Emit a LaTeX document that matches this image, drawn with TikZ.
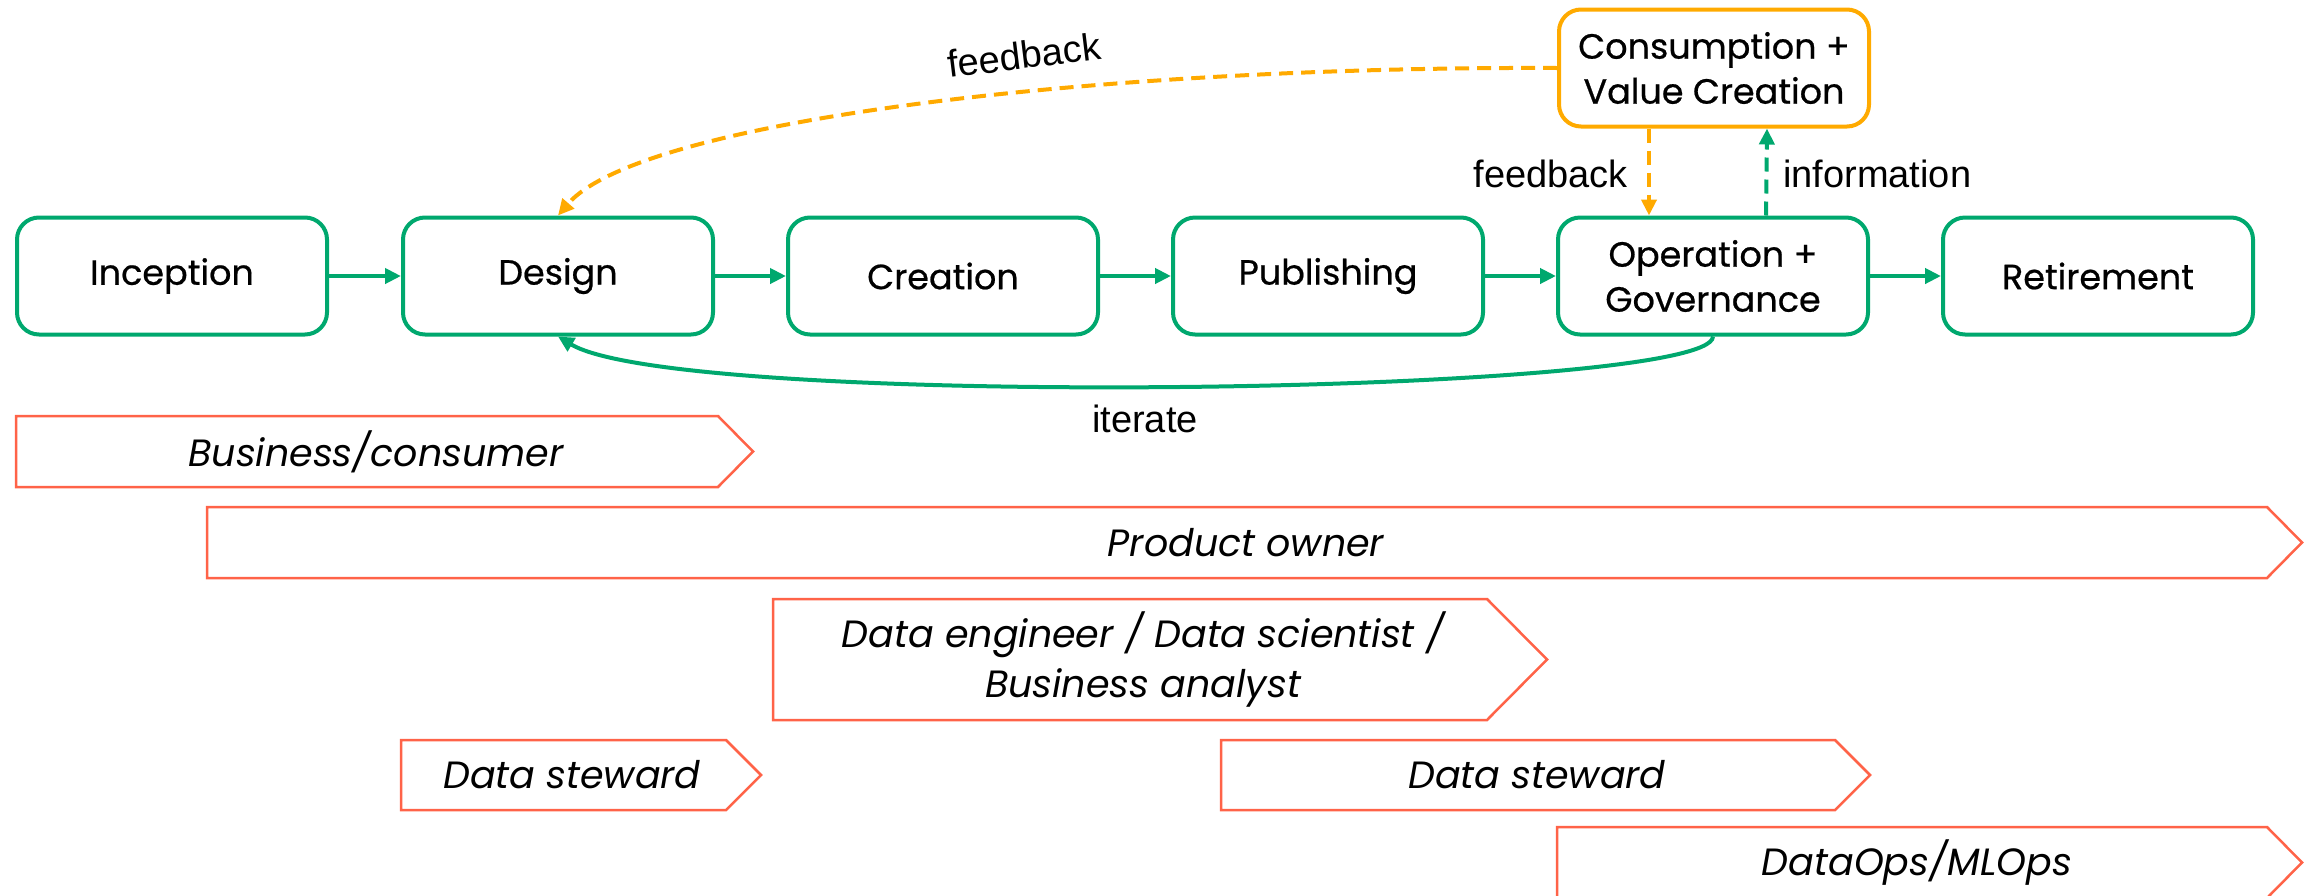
\documentclass[tikz,border=0pt]{standalone}
\usepackage{fontspec}
\setmainfont{Poppins}
\newfontface\stagefont{Poppins}[FakeBold=0.6]
\newfontfamily\labelfont{Liberation Sans}
\usetikzlibrary{arrows.meta}
\definecolor{stagegreen}{RGB}{0,168,110}
\definecolor{feedorange}{RGB}{255,170,0}
\definecolor{rolered}{RGB}{255,99,72}
\begin{document}
\begin{tikzpicture}[x=1pt,y=-1pt,
  stagebox/.style={draw=stagegreen, line width=4pt, rounded corners=22pt,
    minimum width=310pt, minimum height=117pt, inner sep=0pt, align=center,
    font=\stagefont\fontsize{35}{45}\selectfont},
  valuebox/.style={stagebox, draw=feedorange},
  flow/.style={draw=stagegreen, line width=4pt, -{Triangle[length=16pt,width=15pt]}},
  feedflow/.style={draw=feedorange, line width=4pt, dash pattern=on 14pt off 8pt,
    -{Triangle[length=16pt,width=15pt]}},
  infoflow/.style={flow, dash pattern=on 14pt off 8pt},
  rolepen/.style={draw=rolered, line width=2.5pt, line join=miter},
  roletext/.style={font=\fontsize{38}{50}\selectfont\itshape, align=center, inner sep=0pt},
  flowlabel/.style={font=\labelfont\fontsize{38}{44}\selectfont, inner sep=0pt}]
\useasboundingbox (0,0) rectangle (2313,895);

% lifecycle stages
\node[stagebox] (inception)   at (172,276)  {Inception};
\node[stagebox] (design)      at (558,276)  {Design};
\node[stagebox] (creation)    at (943,276)  {Creation};
\node[stagebox] (publishing)  at (1328,276) {Publishing};
\node[stagebox] (operation)   at (1713,276) {Operation +\\Governance};
\node[stagebox] (retirement)  at (2098,276) {Retirement};
\node[valuebox] (consumption) at (1714,68)  {Consumption +\\Value Creation};

% main flow
\draw[flow] (inception) -- (design);
\draw[flow] (design) -- (creation);
\draw[flow] (creation) -- (publishing);
\draw[flow] (publishing) -- (operation);
\draw[flow] (operation) -- (retirement);

% iteration loop
\draw[flow] (operation.south) .. controls (1712,395) and (680,410) .. (design.south);
\node[flowlabel, anchor=base] (iterlbl) at (1145,432) {iterate};

% feedback and information between operation and consumption
\draw[feedflow] ([xshift=-65pt]consumption.south) -- ([xshift=-64pt]operation.north);
\draw[infoflow] ([xshift=53pt]operation.north) -- ([xshift=53pt]consumption.south);
\node[flowlabel, anchor=base east] (fblbl) at (1628,187) {feedback};
\node[flowlabel, anchor=base west] (infolbl) at (1783,187) {information};

% feedback from consumption to design
\draw[feedflow] (consumption.west) .. controls (1100,66) and (640,120) .. (design.north);
\node[flowlabel, rotate=7] (fblbl2) at (1024,55) {feedback};

% roles
\draw[rolepen] (16,416) -- (718,416) -- (753,451.5) -- (718,487) -- (16,487) -- cycle;
\node[roletext] (business) at (376,451.5) {Business/consumer};

\draw[rolepen] (207,507) -- (2267,507) -- (2302,542.5) -- (2267,578) -- (207,578) -- cycle;
\node[roletext] (owner) at (1246,542.5) {Product owner};

\draw[rolepen] (773,599) -- (1487,599) -- (1547,659.5) -- (1487,720) -- (773,720) -- cycle;
\node[roletext] (engineer) at (1143,659.5) {Data engineer / Data scientist /\\Business analyst};

\draw[rolepen] (401,740) -- (726,740) -- (761,775) -- (726,810) -- (401,810) -- cycle;
\node[roletext] (steward1) at (572,775) {Data steward};

\draw[rolepen] (1221,740) -- (1835,740) -- (1870,775) -- (1835,810) -- (1221,810) -- cycle;
\node[roletext] (steward2) at (1537,775) {Data steward};

\draw[rolepen] (1557,827) -- (2267,827) -- (2302,862.5) -- (2267,898) -- (1557,898) -- cycle;
\node[roletext] (ops) at (1917,862.5) {DataOps/MLOps};
\end{tikzpicture}
\end{document}
